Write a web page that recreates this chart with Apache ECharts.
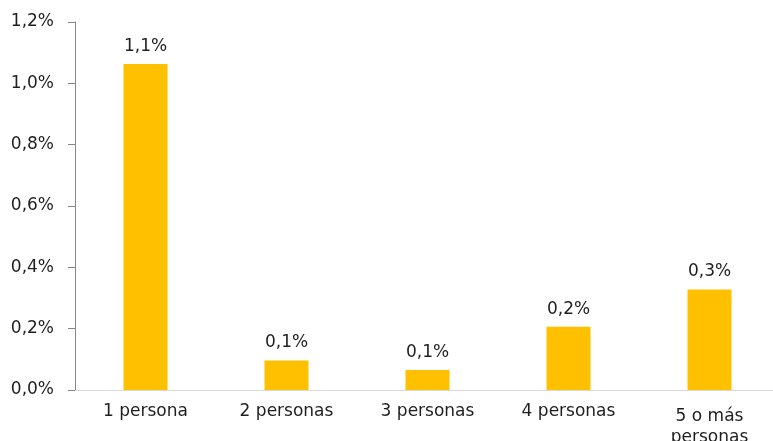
<!DOCTYPE html>
<html>
<head>
<meta charset="utf-8">
<script src="https://cdn.jsdelivr.net/npm/echarts@6/dist/echarts.min.js"></script>
<style>
  html, body { margin: 0; padding: 0; background: #fff; }
  #chart { width: 773px; height: 441px; }
</style>
</head>
<body>
<div id="chart"></div>
<script>
// datos
var categories = ['1 persona', '2 personas', '3 personas', '4 personas', '5 o más\npersonas'];
var values = [1.063, 0.096, 0.065, 0.206, 0.328];
var yTicks = [0, 0.2, 0.4, 0.6, 0.8, 1.0, 1.2];

var fmt = function (v) {
    return v.toFixed(1).replace('.', ',') + '%';
};

var font = 'DejaVu Sans, Arial, sans-serif';

// la etiqueta de dos líneas va un poco más abajo en el original
var catData = categories.map(function (c) {
    if (c.indexOf('\n') < 0) return c;
    return { value: c, textStyle: { lineHeight: 21, padding: [4, 0, 0, 0] } };
});

var chart = echarts.init(document.getElementById('chart'));
var option = {
    backgroundColor: '#fff',
    animation: false,
    grid: {
        left: 75,
        top: 22,
        width: 705,
        bottom: 51,
        containLabel: false,
        outerBoundsMode: 'none'
    },
    xAxis: {
        type: 'category',
        data: catData,
        axisLine: { lineStyle: { color: '#d9d9d9', width: 1 } },
        axisTick: { show: false },
        axisLabel: {
            color: '#1f1f1f',
            fontFamily: font,
            fontSize: 17,
            margin: 12,
            lineHeight: 19
        }
    },
    yAxis: {
        type: 'value',
        min: yTicks[0],
        max: yTicks[yTicks.length - 1],
        interval: 0.2,
        splitLine: { show: false },
        axisLine: { show: true, lineStyle: { color: '#868686', width: 1 } },
        axisTick: { show: true, length: 7, lineStyle: { color: '#868686' } },
        axisLabel: {
            color: '#1f1f1f',
            fontFamily: font,
            fontSize: 17,
            margin: 21,
            formatter: function (v) { return fmt(v); }
        }
    },
    series: [{
        type: 'bar',
        data: values,
        barWidth: 44,
        itemStyle: { color: '#FFC000' },
        label: {
            show: true,
            position: 'top',
            distance: 9,
            color: '#1f1f1f',
            fontFamily: font,
            fontSize: 17,
            formatter: function (p) { return fmt(p.value); }
        }
    }]
};
chart.setOption(option);
</script>
</body>
</html>
